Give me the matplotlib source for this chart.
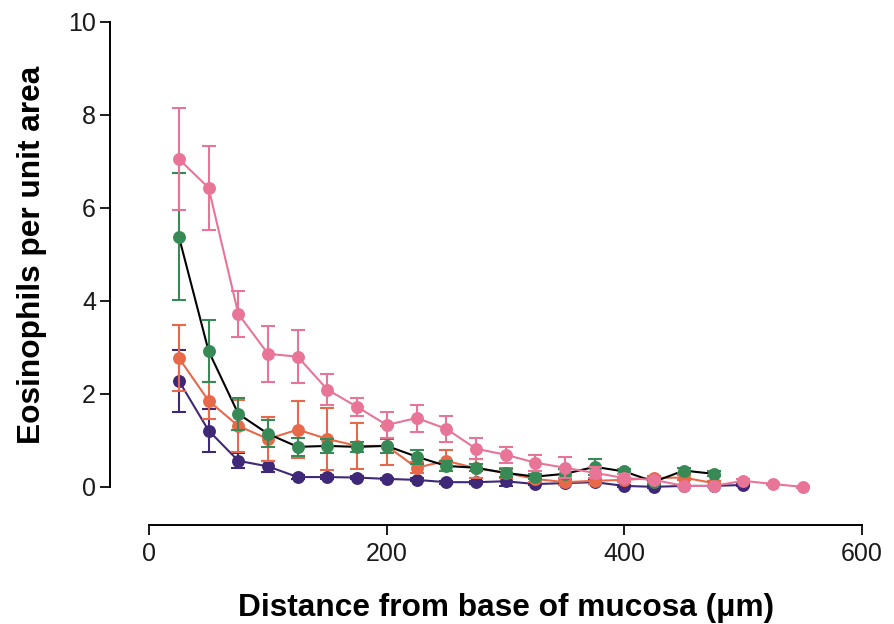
import matplotlib
matplotlib.use("Agg")
import matplotlib.pyplot as plt

# ---------------------------
# Data
# ---------------------------
dist = [25, 50, 75, 100, 125, 150, 175, 200, 225, 250, 275, 300,
        325, 350, 375, 400, 425, 450, 475, 500, 525, 550]

pink_y = [7.05, 6.43, 3.72, 2.86, 2.80, 2.09, 1.72, 1.33, 1.48, 1.25, 0.82,
          0.69, 0.52, 0.41, 0.30, 0.19, 0.15, 0.02, 0.02, 0.13, 0.06, 0.00]
pink_err = [1.10, 0.90, 0.50, 0.60, 0.57, 0.33, 0.20, 0.28, 0.29, 0.28, 0.23,
            0.17, 0.17, 0.23, 0.12, 0.08, 0.05, 0.03, 0.03, 0.03, 0.02, 0.02]

green_y = [5.38, 2.92, 1.57, 1.14, 0.86, 0.88, 0.86, 0.88, 0.65, 0.45, 0.41,
           0.30, 0.22, 0.28, 0.43, 0.33, 0.11, 0.35, 0.28]
green_err = [1.37, 0.67, 0.35, 0.29, 0.20, 0.15, 0.10, 0.15, 0.15, 0.10, 0.08,
             0.08, 0.06, 0.10, 0.17, 0.06, 0.05, 0.06, 0.05]

orange_y = [2.77, 1.85, 1.31, 1.03, 1.23, 1.03, 0.88, 0.88, 0.41, 0.56, 0.40,
            0.30, 0.17, 0.10, 0.13, 0.15, 0.19, 0.20, 0.08]
orange_err = [0.70, 0.40, 0.55, 0.48, 0.62, 0.66, 0.50, 0.42, 0.12, 0.23, 0.20,
              0.10, 0.06, 0.05, 0.06, 0.05, 0.05, 0.05, 0.04]

purple_y = [2.28, 1.21, 0.56, 0.44, 0.21, 0.21, 0.20, 0.17, 0.15, 0.10, 0.10,
            0.12, 0.06, 0.08, 0.10, 0.02, 0.00, 0.02, 0.02, 0.04]
purple_err = [0.66, 0.46, 0.16, 0.12, 0.04, 0.04, 0.03, 0.03, 0.03, 0.03, 0.03,
              0.10, 0.03, 0.03, 0.04, 0.02, 0.02, 0.02, 0.02, 0.02]

PINK = "#e87598"
GREEN = "#378a55"
ORANGE = "#e8694a"
PURPLE = "#3f2878"

# ---------------------------
# Plot
# ---------------------------
plt.rcParams['font.family'] = ['Liberation Sans', 'DejaVu Sans']

fig = plt.figure(figsize=(8.95, 6.24), dpi=100)
ax = fig.add_axes([0.1229, 0.1587, 0.8668, 0.8212])

MS = 9.3
CAP = 4.7
LW = 1.5


def draw(y, err, color, z, line_color=None):
    x = dist[:len(y)]
    lc = line_color if line_color is not None else color
    ax.plot(x, y, color=lc, lw=LW, zorder=z)
    ax.errorbar(x, y, yerr=err, fmt='none', ecolor=color, elinewidth=LW,
                capsize=CAP, capthick=LW, zorder=z + 0.1)
    ax.plot(x, y, 'o', color=color, markersize=MS, markeredgewidth=0,
            zorder=z + 0.2)


draw(purple_y, purple_err, PURPLE, 2)
draw(orange_y, orange_err, ORANGE, 3)
draw(green_y, green_err, GREEN, 4, line_color="black")
draw(pink_y, pink_err, PINK, 5)

ax.set_xlim(-33, 620)
ax.set_ylim(-0.82, 10.2)
ax.spines['top'].set_visible(False)
ax.spines['right'].set_visible(False)
ax.spines['left'].set_bounds(0, 10)
ax.spines['bottom'].set_bounds(0, 600)
for s in ['left', 'bottom']:
    ax.spines[s].set_linewidth(1.4)

ax.set_xticks([0, 200, 400, 600])
ax.set_yticks([0, 2, 4, 6, 8, 10])
ax.tick_params(direction='out', length=7, width=1.4, labelsize=18,
               colors='#1a1a1a')
ax.tick_params(axis='y', pad=3)
ax.tick_params(axis='x', pad=5)

ax.set_xlabel("Distance from base of mucosa (μm)", fontsize=22.8,
              fontweight='bold')
ax.set_ylabel("Eosinophils per unit area", fontsize=22.8,
              fontweight='bold')
# labels centred on the spine ranges, as in the reference
ax.xaxis.set_label_coords(0.51, -0.133)
ax.yaxis.set_label_coords(-0.081, 0.528)

fig.savefig("out.png", dpi=100)
